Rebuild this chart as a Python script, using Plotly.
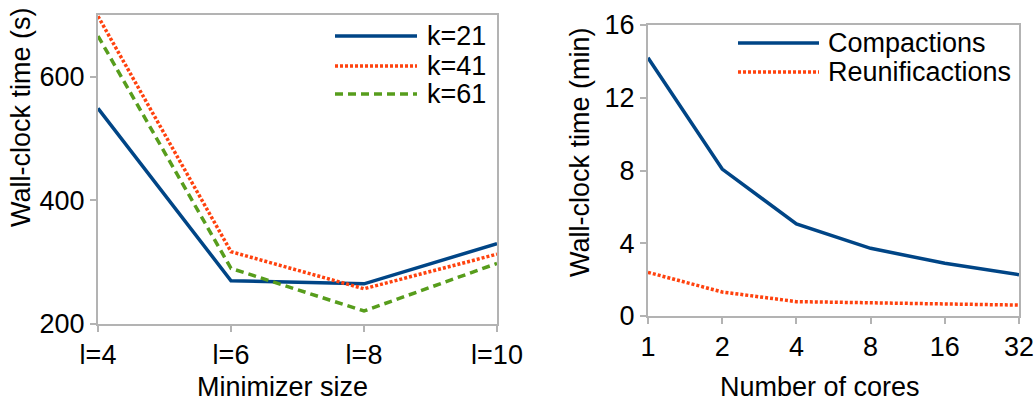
import plotly.graph_objects as go

# ---- data ----
minimizer_l = [4, 6, 8, 10]
minimizer_labels = ["l=4", "l=6", "l=8", "l=10"]
k21 = [549, 270, 265, 330]
k41 = [698, 317, 257, 313]
k61 = [666, 290, 221, 298]

cores = [1, 2, 4, 8, 16, 32]
cores_labels = ["1", "2", "4", "8", "16", "32"]
compactions = [14.2, 8.08, 5.06, 3.72, 2.9, 2.27]
reunifications = [2.4, 1.32, 0.79, 0.73, 0.66, 0.6]

left_y_ticks = [200, 400, 600]
right_y_ticks = [0, 4, 8, 12, 16]

BLUE = "#004586"
RED = "#ff420e"
GREEN = "#579d1c"
GRID = "#b3b3b3"
FONT = "Liberation Sans, Arial, sans-serif"
FS = 27
W, H = 1035, 402

DOT = "3px,2px"
DASH = "8px,5px"

fig = go.Figure()
fig.add_trace(go.Scatter(x=minimizer_l, y=k21, mode="lines", name="k=21",
                         line=dict(color=BLUE, width=3.5), xaxis="x", yaxis="y", showlegend=False))
fig.add_trace(go.Scatter(x=minimizer_l, y=k41, mode="lines", name="k=41",
                         line=dict(color=RED, width=3.5, dash=DOT), xaxis="x", yaxis="y", showlegend=False))
fig.add_trace(go.Scatter(x=minimizer_l, y=k61, mode="lines", name="k=61",
                         line=dict(color=GREEN, width=3.5, dash=DASH), xaxis="x", yaxis="y", showlegend=False))
fig.add_trace(go.Scatter(x=cores, y=compactions, mode="lines", name="Compactions",
                         line=dict(color=BLUE, width=3.5), xaxis="x2", yaxis="y2", showlegend=False))
fig.add_trace(go.Scatter(x=cores, y=reunifications, mode="lines", name="Reunificactions",
                         line=dict(color=RED, width=3.5, dash=DOT), xaxis="x2", yaxis="y2", showlegend=False))

def px(x):
    return x / W

def py(y):
    return (H - y) / H

axis_common = dict(showline=True, mirror=True, linecolor=GRID, linewidth=2,
                   ticks="outside", ticklen=6, tickwidth=2, tickcolor=GRID,
                   showgrid=False, zeroline=False, automargin=False,
                   tickfont=dict(family=FONT, size=FS, color="black"))

fig.update_layout(
    width=W, height=H,
    margin=dict(l=0, r=0, t=0, b=0),
    paper_bgcolor="white", plot_bgcolor="white",
    font=dict(family=FONT, size=FS, color="black"),
    xaxis=dict(domain=[px(98), px(497)], range=[4, 10], tickmode="array",
               tickvals=minimizer_l, ticktext=minimizer_labels, anchor="y", **axis_common),
    yaxis=dict(domain=[py(324), py(15)], range=[200, 700], tickmode="array",
               tickvals=left_y_ticks, anchor="x", **axis_common),
    xaxis2=dict(domain=[px(648), px(1019)], type="log", range=[0, 1.50515],
                tickmode="array", tickvals=cores, ticktext=cores_labels, anchor="y2", **axis_common),
    yaxis2=dict(domain=[py(316), py(25)], range=[0, 16], tickmode="array",
                tickvals=right_y_ticks, anchor="x2", **axis_common),
)

# axis titles
annos = [
    dict(text="Wall-clock time (s)", x=px(21), y=py(117), textangle=-90),
    dict(text="Wall-clock time (min)", x=px(580), y=py(152), textangle=-90),
    dict(text="Minimizer size", x=px(282), y=py(387), textangle=0),
    dict(text="Number of cores", x=px(820), y=py(387), textangle=0),
]
for a in annos:
    fig.add_annotation(xref="paper", yref="paper", showarrow=False,
                       xanchor="center", yanchor="middle",
                       font=dict(family=FONT, size=FS, color="black"), **a)

# legends (drawn manually to match the long sample lines)
legend_items = [
    ("k=21", BLUE, "solid", 335, 417, 425, 36),
    ("k=41", RED, DOT, 335, 417, 425, 66),
    ("k=61", GREEN, DASH, 335, 417, 425, 94),
    ("Compactions", BLUE, "solid", 738, 819, 826, 43),
    ("Reunificactions", RED, DOT, 738, 819, 826, 72),
]
for text, color, dash, x0, x1, xt, y in legend_items:
    fig.add_shape(type="line", xref="paper", yref="paper",
                  x0=px(x0), x1=px(x1), y0=py(y), y1=py(y),
                  line=dict(color=color, width=3.5, dash=dash))
    fig.add_annotation(xref="paper", yref="paper", showarrow=False,
                       x=px(xt), y=py(y), xanchor="left", yanchor="middle",
                       text=text, font=dict(family=FONT, size=FS, color="black"))

fig.write_html("out.html",
               config={"displayModeBar": False},
               post_script="document.body.style.margin='0';document.body.style.overflow='hidden';")
